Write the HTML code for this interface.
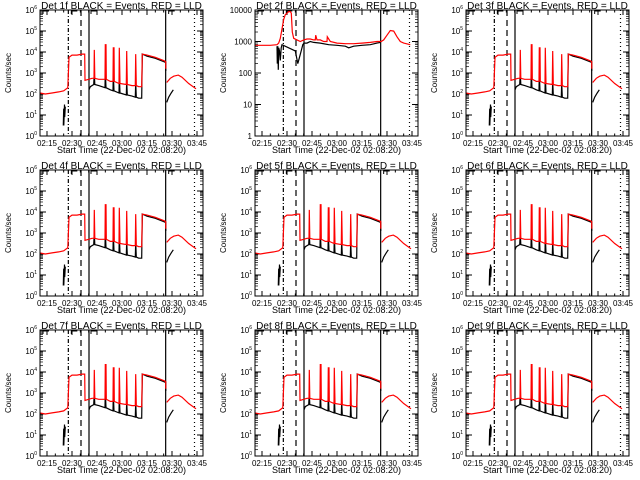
<!DOCTYPE html>
<html><head><meta charset="utf-8"><style>
html,body{margin:0;padding:0;background:#fff;}
svg{display:block;font-family:"Liberation Sans",sans-serif;}
</style></head><body>
<svg id="c" width="640" height="480" viewBox="0 0 640 480"></svg>
<script>
// ----- data (minutes after 02:00, log10 counts/sec) -----
const detectors = ["1f","2f","3f","4f","5f","6f","7f","8f","9f"];
const xTickLabels = ["02:15","02:30","02:45","03:00","03:15","03:30","03:45"];
const xTickMinutes = [15,30,45,60,75,90,105];
const markerMinutes = [27.8,35.4,40.2,86.2,103.5];
const redTypicalT = [10.8,14,18,22,25,27.5,28.2,30,33,36,37.6,37.8,40,42,43.2,43.4,43.7,46,49.8,50,50.4,50.6,53,54.6,54.8,55.2,55.4,58.2,58.4,58.8,62.6,62.8,63.2,66,68,68.2,68.6,70,71.8,72.2,75,80,84.8,86.2,86.3];
const redTypicalV = [2.05,2.0,2.05,2.1,2.15,2.3,3.75,3.85,3.85,3.9,3.9,2.65,2.7,2.75,2.75,4.1,2.75,2.7,2.7,4.35,4.35,2.7,2.6,2.6,4.2,4.2,2.6,2.5,4.2,2.5,2.45,4.05,2.45,2.4,2.4,3.9,2.4,2.35,2.35,3.9,3.85,3.75,3.6,3.55,3.2];
const redTypicalT2 = [86.8,89,91,93.8,96,100,104.4];
const redTypicalV2 = [2.55,2.75,2.85,2.9,2.8,2.5,2.25];
const blackTypicalT = [24.8,25,25.1,25.5,25.6,26];
const blackTypicalV = [0.5,1.3,0.5,1.5,0.9,1.4];
const blackMainT = [40.2,41,43,43.4,43.7,46,49.8,50,50.4,53,54.6,54.8,55.2,58.2,58.4,58.8,62.6,62.8,63.2,66,68,68.2,68.6,70,71.8,72.2,75,80,84.8,86.2,86.3];
const blackMainV = [2.2,2.35,2.45,3.0,2.45,2.4,2.3,3.1,2.3,2.2,2.15,3.0,2.15,2.05,2.9,2.05,1.95,2.6,1.95,1.9,1.85,2.55,1.85,1.8,1.8,3.9,3.8,3.7,3.55,3.5,3.1];
const blackTailT = [86.8,88,89.5,90.8];
const blackTailV = [1.6,1.85,2.05,2.2];
const redD2T = [10.8,15,20,24,25,26,27,28,29,30,31,32,32.6,33.2,34,36,38,40,42,44,46,47,47.2,48,50,52,54,54.2,56,60,65,70,75,80,84,86,86.5,88,90,92,94,96,98,100,104];
const redD2V = [2.88,2.88,2.88,2.9,2.95,3.1,3.4,3.7,3.85,3.9,3.95,3.95,3.9,3.3,3.1,3.05,3.0,3.05,3.08,3.08,3.05,3.05,3.2,3.05,3.05,3.0,3.0,3.15,3.0,2.95,2.93,2.93,2.95,2.97,3.0,3.0,3.0,3.05,3.2,3.35,3.33,3.15,3.0,2.95,2.9];
const blackD2T = [24,24.2,24.5,24.8,25,25.5,26,26.5,27,35,36.5,37.5,38.5,39.5,40.2,42,44,46,50,55,60,65,67,70,75,80,84,86,86.3];
const blackD2V = [2.85,2.3,2.85,2.1,2.8,2.7,2.4,2.8,2.9,2.7,2.3,2.5,2.7,2.9,2.95,2.95,3.0,2.97,2.95,2.9,2.88,2.85,2.8,2.85,2.88,2.9,2.95,2.97,2.95];

const svg = document.getElementById('c');
const NS = 'http://www.w3.org/2000/svg';
function mk(tag, attrs, parent){const e=document.createElementNS(NS,tag);for(const k in attrs)e.setAttribute(k,attrs[k]);(parent||svg).appendChild(e);return e;}

const colX=[40,255,466], rowY=[10,170,330], W=163, H=126, T0=10.8, PXM=W/97.8;

detectors.forEach((d,i)=>{
  const X0=colX[i%3], Y0=rowY[Math.floor(i/3)];
  const isLin = i===1;
  const dmin=0, dmax=isLin?4:6;
  const xs = m => X0+(m-T0)*PXM;
  const ys = v => Y0+H-(v-dmin)/(dmax-dmin)*H;
  const g=mk('g',{});
  
  
  const t=mk('text',{x:X0+W/2,y:Y0-1,'font-size':10,'text-anchor':'middle'},g);
  t.textContent='Det '+d+' BLACK = Events, RED = LLD';
  
  
  const yl=mk('text',{x:0,y:0,'font-size':8,'text-anchor':'middle',transform:`translate(${X0-29},${Y0+H/2}) rotate(-90)`},g);
  yl.textContent='Counts/sec';
  
  
  const xl=mk('text',{x:X0+W/2,y:Y0+H+17,'font-size':9,'text-anchor':'middle'},g);
  xl.textContent='Start Time (22-Dec-02 02:08:20)';
  
  
  for(let k=dmin;k<=dmax;k++){
    const y=ys(k);
    mk('line',{x1:X0,x2:X0+6,y1:y,y2:y,stroke:'#000'},g);
    mk('line',{x1:X0+W-6,x2:X0+W,y1:y,y2:y,stroke:'#000'},g);
    if(k<dmax){for(let m=2;m<10;m++){const yy=ys(k+Math.log10(m));
      mk('line',{x1:X0,x2:X0+3,y1:yy,y2:yy,stroke:'#000','stroke-width':0.7},g);
      mk('line',{x1:X0+W-3,x2:X0+W,y1:yy,y2:yy,stroke:'#000','stroke-width':0.7},g);}}
    const lb=mk('text',{x:X0-3,y:y+3,'font-size':8,'text-anchor':'end'},g);
    if(isLin){lb.textContent=String(Math.pow(10,k));}
    else{lb.textContent='10';const s=mk('tspan',{dy:-4,'font-size':5},lb);s.textContent=String(k);}
    
    
  }
  xTickMinutes.forEach((m,j)=>{
    const x=xs(m);
    mk('line',{x1:x,x2:x,y1:Y0+H,y2:Y0+H-5,stroke:'#000'},g);
    mk('line',{x1:x,x2:x,y1:Y0,y2:Y0+5,stroke:'#000'},g);
    for(let q=5;q<15;q+=5){const xx=xs(m+q);if(xx<X0+W){mk('line',{x1:xx,x2:xx,y1:Y0+H,y2:Y0+H-2.5,stroke:'#000'},g);mk('line',{x1:xx,x2:xx,y1:Y0,y2:Y0+2.5,stroke:'#000'},g);}}
    const lb=mk('text',{x:x,y:Y0+H+10,'font-size':8,'text-anchor':'middle'},g);
    lb.textContent=xTickLabels[j];
    
    
  });
  const dash=['4,2,1,2','6,4',null,null,'1,3'];
  markerMinutes.forEach((m,j)=>{
    const x=xs(m);
    const a={x1:x,x2:x,y1:Y0,y2:Y0+H,stroke:'#000','stroke-width':1.2};
    if(dash[j])a['stroke-dasharray']=dash[j];
    const l=mk('line',a,g);
    
    
  });
  [[-4,X0+3],[markerMinutes[0],xs(markerMinutes[0])+3],[markerMinutes[2],xs(markerMinutes[2])+2],[markerMinutes[3],xs(markerMinutes[3])+3]].forEach(b=>{
    mk('path',{d:`M${b[1]},${Y0+4} v-3 h6`,stroke:'#000',fill:'none'},g);
  });
  function line(T,V,col){
    let d='';T.forEach((m,k)=>{d+=(k?'L':'M')+xs(m).toFixed(1)+','+ys(V[k]).toFixed(1);});
    const p=mk('path',{d:d,stroke:col,fill:'none','stroke-width':1.2},g);
    
    
  }
  if(isLin){
    line(blackD2T,blackD2V,'#000');
    line(redD2T,redD2V,'#f00');
  } else {
    line(blackTypicalT,blackTypicalV,'#000');
    line(blackMainT,blackMainV,'#000');
    line(blackTailT,blackTailV,'#000');
    line(redTypicalT,redTypicalV,'#f00');
    line(redTypicalT2,redTypicalV2,'#f00');
  }
  const box=mk('rect',{x:X0,y:Y0,width:W,height:H,fill:'none',stroke:'#000'},g);
  
  
});
</script>
</body></html>
